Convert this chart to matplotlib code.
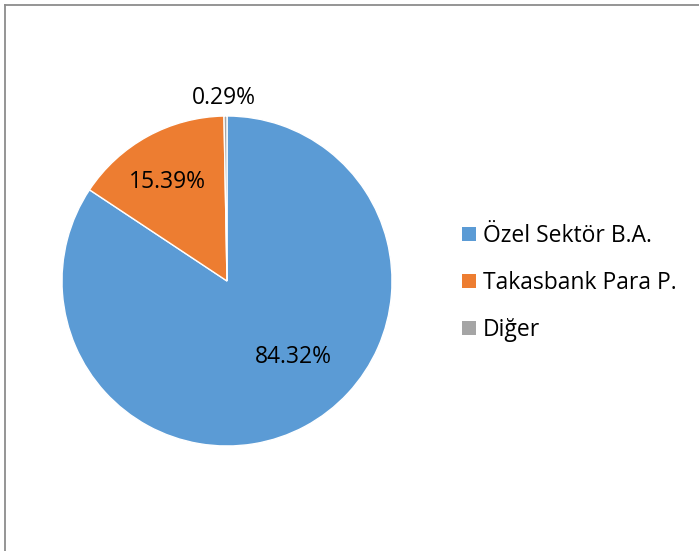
import matplotlib
matplotlib.use("Agg")
import matplotlib.pyplot as plt
from matplotlib.lines import Line2D
from matplotlib.patches import Patch
import numpy as np

categories = ["Özel Sektör B.A.", "Takasbank Para P.", "Diğer"]
values = [84.32, 15.39, 0.29]
colors = ["#5B9BD5", "#ED7D31", "#A5A5A5"]
# label placement (angle deg, radius fraction) for each percentage label
label_pos = [(-49, 0.61), (121, 0.70), (91, 1.11)]

plt.rcParams['font.family'] = ['Open Sans', 'DejaVu Sans']

W, H = 699, 551
fig = plt.figure(figsize=(W / 100, H / 100), dpi=100)
cx, cy, r = 227, 281, 165
ax = fig.add_axes([(cx - r) / W, (H - cy - r) / H, 2 * r / W, 2 * r / H])
wedges, _ = ax.pie(values, colors=colors, startangle=90, counterclock=False,
                   radius=1.0, wedgeprops=dict(edgecolor="white", linewidth=1.0))
ax.set_xlim(-1, 1)
ax.set_ylim(-1, 1)
ax.set_aspect("equal")
ax.axis("off")

for v, (ang, d) in zip(values, label_pos):
    a = np.deg2rad(ang)
    ax.text(d * np.cos(a), d * np.sin(a), f"{v:.2f}%", ha="center", va="center",
            fontsize=16.5, color="black", clip_on=False)

handles = [Patch(facecolor=c, edgecolor="none") for c in colors]
fig.legend(handles, categories, loc="center left", bbox_to_anchor=(451 / W, 1 - 283 / H),
           frameon=False, fontsize=16.5, handlelength=0.6, handleheight=0.6,
           handletextpad=0.3, labelspacing=1.0, borderpad=0)

# partial frame (top and left edges)
fig.add_artist(Line2D([5 / W, 1], [1 - 4.5 / H, 1 - 4.5 / H], color="#8C8C8C", lw=1.3,
                      transform=fig.transFigure))
fig.add_artist(Line2D([5 / W, 5 / W], [0, 1 - 4.5 / H], color="#8C8C8C", lw=1.3,
                      transform=fig.transFigure))

fig.savefig("out.png", dpi=100, facecolor="white")
